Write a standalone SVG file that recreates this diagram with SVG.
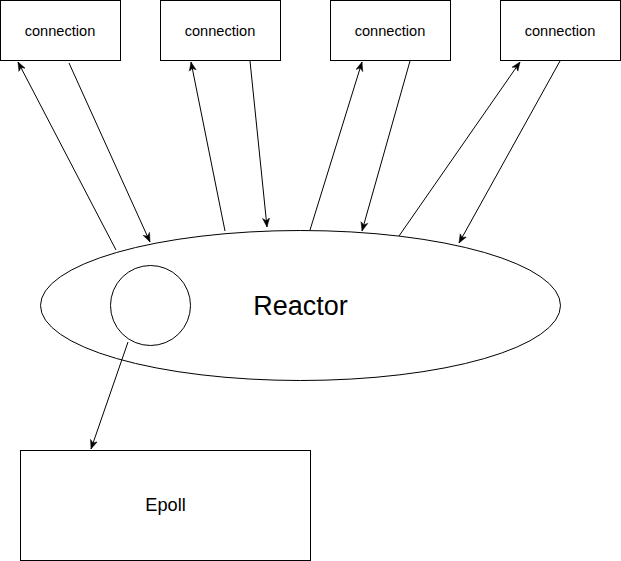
<svg xmlns="http://www.w3.org/2000/svg" width="621" height="561" viewBox="0 0 621 561">
<style>
.box{fill:#fff;stroke:#000;stroke-width:1}
.lbl{font-family:"Liberation Sans",Arial,sans-serif;fill:#000;text-anchor:middle}
.edge{stroke:#000;stroke-width:1;fill:none;marker-end:url(#arr)}
</style>
<defs>
<marker id="arr" viewBox="0 0 10 10" markerWidth="9" markerHeight="9" refX="10" refY="5" orient="auto" markerUnits="userSpaceOnUse">
<path d="M0,1 L10,5 L0,9 L3,5 z" fill="#000" stroke="#000" stroke-width="0.5"/>
</marker>
</defs>
<rect width="621" height="561" fill="#fff"/>
<g id="conn1"><rect class="box" x="0.5" y="0.5" width="120" height="60"/><text class="lbl" x="60" y="35.5" font-size="14.6">connection</text></g>
<g id="conn2"><rect class="box" x="160.5" y="0.5" width="120" height="60"/><text class="lbl" x="220" y="35.5" font-size="14.6">connection</text></g>
<g id="conn3"><rect class="box" x="330.5" y="0.5" width="120" height="60"/><text class="lbl" x="390" y="35.5" font-size="14.6">connection</text></g>
<g id="conn4"><rect class="box" x="500.5" y="0.5" width="120" height="60"/><text class="lbl" x="560" y="35.5" font-size="14.6">connection</text></g>
<g id="reactor"><ellipse class="box" cx="300.5" cy="305.5" rx="260" ry="75"/><text class="lbl" x="300.5" y="315" font-size="27">Reactor</text></g>
<g id="circle"><circle class="box" cx="150.5" cy="305.5" r="40"/></g>
<g id="epoll"><rect class="box" x="20.5" y="450.5" width="290" height="110"/><text class="lbl" x="165.5" y="510.5" font-size="18.2">Epoll</text></g>
<g id="connectors">
<line class="edge" x1="116" y1="250" x2="18" y2="62"/>
<line class="edge" x1="69" y1="63" x2="150" y2="242"/>
<line class="edge" x1="225" y1="231" x2="191" y2="62"/>
<line class="edge" x1="250" y1="61" x2="267" y2="227"/>
<line class="edge" x1="310" y1="230" x2="362" y2="62"/>
<line class="edge" x1="410" y1="61" x2="362" y2="231"/>
<line class="edge" x1="399" y1="236" x2="520" y2="62"/>
<line class="edge" x1="560" y1="61" x2="459" y2="243"/>
<line class="edge" x1="128" y1="342" x2="91" y2="449"/>
</g>
</svg>
